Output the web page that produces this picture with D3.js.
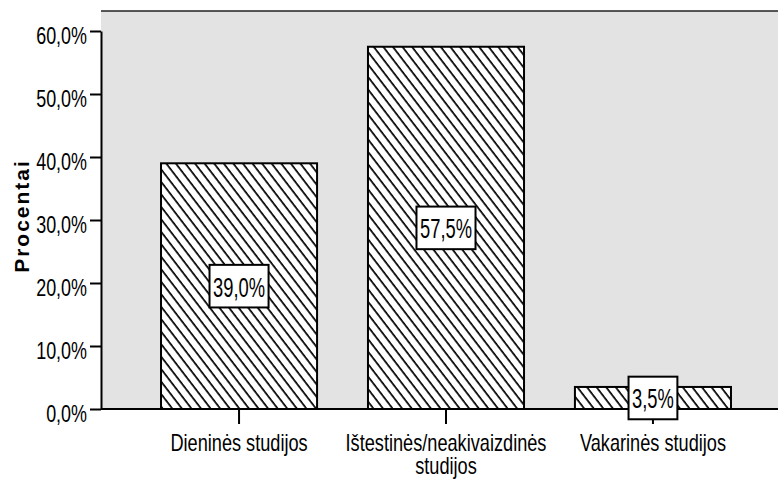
<!DOCTYPE html>
<html>
<head>
<meta charset="utf-8">
<script src="https://cdn.jsdelivr.net/npm/d3@7"></script>
<style>
  body { margin: 0; background: #fff; }
  svg { display: block; font-family: "Liberation Sans", Arial, sans-serif; }
</style>
</head>
<body>
<svg id="chart" width="778" height="479"></svg>
<script>
// ── Duomenys ─────────────────────────────────────────
const categories = [
  ["Dieninės studijos"],
  ["Ištestinės/neakivaizdinės", "studijos"],
  ["Vakarinės studijos"]
];
const percents = [39.0, 57.5, 3.5];
const yTicks = [0, 10, 20, 30, 40, 50, 60];
const yTitle = "Procentai";

const W = 778, H = 479;
const plot = { left: 101, top: 11, right: 791, bottom: 409 };

const lt = d3.formatLocale({ decimal: ",", thousands: " ", grouping: [3], currency: ["", ""] });
const fmt = v => lt.format(".1f")(v) + "%";

const svg = d3.select("#chart");

// hatch pattern
const defs = svg.append("defs");
const pat = defs.append("pattern")
  .attr("id", "hatch")
  .attr("patternUnits", "userSpaceOnUse")
  .attr("width", 7.6).attr("height", 10)
  .attr("patternTransform", "rotate(-37.5)");
pat.append("rect").attr("width", 7.6).attr("height", 10).attr("fill", "#fff");
pat.append("line")
  .attr("x1", 2).attr("y1", 0).attr("x2", 2).attr("y2", 10)
  .attr("stroke", "#000").attr("stroke-width", 1.7);

// ── Escalas ──────────────────────────────────────────
const x = d3.scaleBand()
  .domain(d3.range(categories.length))
  .range([plot.left, plot.right])
  .paddingInner(0.246)
  .paddingOuter(0.29);

const y = d3.scaleLinear()
  .domain([0, 60])
  .range([plot.bottom, 31]);

// plot background
svg.append("rect")
  .attr("x", plot.left).attr("y", plot.top)
  .attr("width", plot.right - plot.left).attr("height", plot.bottom - plot.top)
  .attr("fill", "#e3e3e3");
svg.append("line")
  .attr("x1", plot.left).attr("x2", W)
  .attr("y1", plot.top).attr("y2", plot.top)
  .attr("stroke", "#222").attr("stroke-width", 1.6);

// bars
svg.append("g").selectAll("rect")
  .data(percents)
  .join("rect")
  .attr("x", (d, i) => x(i))
  .attr("y", d => y(d))
  .attr("width", x.bandwidth())
  .attr("height", d => y(0) - y(d))
  .attr("fill", "url(#hatch)")
  .attr("stroke", "#000")
  .attr("stroke-width", 2);

// ── Ejes ─────────────────────────────────────────────
const yAxis = svg.append("g")
  .attr("transform", `translate(${plot.left},0)`)
  .call(d3.axisLeft(y).tickValues(yTicks).tickFormat(fmt).tickSize(11).tickSizeOuter(0).tickPadding(3))
  .attr("font-family", null)
  .attr("font-size", null);
yAxis.select(".domain").attr("stroke-width", 2);
yAxis.selectAll(".tick line").attr("stroke-width", 2);
yAxis.selectAll(".tick text")
  .attr("font-size", 23)
  .attr("dy", null)
  .attr("x", 0)
  .attr("y", 12.3)
  .attr("fill", "#000")
  .attr("transform", "translate(-14,0) scale(0.78,1)");

svg.append("line")
  .attr("x1", plot.left).attr("x2", W)
  .attr("y1", plot.bottom).attr("y2", plot.bottom)
  .attr("stroke", "#000").attr("stroke-width", 2);

// category ticks + labels
const xg = svg.append("g");
categories.forEach((lines, i) => {
  const cx = x(i) + x.bandwidth() / 2;
  xg.append("line")
    .attr("x1", cx).attr("x2", cx)
    .attr("y1", plot.bottom).attr("y2", plot.bottom + 15)
    .attr("stroke", "#000").attr("stroke-width", 2);
  const t = xg.append("text")
    .attr("transform", `translate(${cx},451) scale(0.79,1)`)
    .attr("text-anchor", "middle")
    .attr("font-size", 23)
    .attr("fill", "#000");
  lines.forEach((ln, j) => {
    t.append("tspan").attr("x", 0).attr("y", j * 23).text(ln);
  });
});

// value labels
const lab = svg.append("g");
percents.forEach((v, i) => {
  const cx = x(i) + x.bandwidth() / 2;
  const cy = (y(v) + y(0)) / 2;
  const g = lab.append("g").attr("transform", `translate(${cx},${cy})`);
  const box = g.append("rect");
  const t = g.append("text")
    .attr("text-anchor", "middle")
    .attr("font-size", 27)
    .attr("y", 10.5)
    .attr("transform", "scale(0.68,1)")
    .attr("fill", "#000")
    .text(fmt(v));
  const tw = t.node().getComputedTextLength() * 0.68 + 7;
  box.attr("x", -tw / 2).attr("y", -21.3)
    .attr("width", tw).attr("height", 42.6)
    .attr("fill", "#fff").attr("stroke", "#000").attr("stroke-width", 2);
});

// y title
svg.append("text")
  .attr("transform", "translate(29,216) rotate(-90)")
  .attr("text-anchor", "middle")
  .attr("font-size", 21)
  .attr("font-weight", "bold")
  .attr("letter-spacing", 2)
  .attr("fill", "#000")
  .text(yTitle);
</script>
</body>
</html>
